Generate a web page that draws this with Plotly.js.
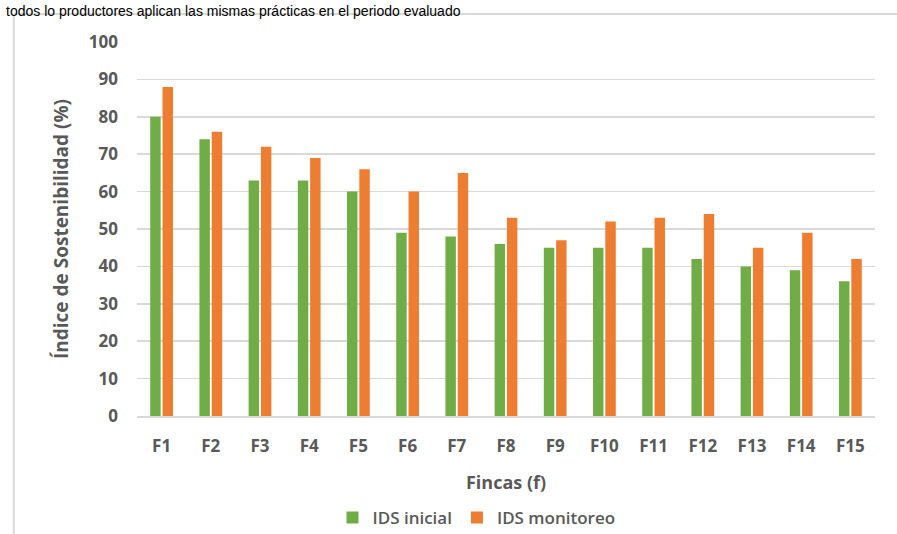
<!DOCTYPE html>
<html><head><meta charset="utf-8">
<script src="https://cdn.plot.ly/plotly-3.0.1.min.js"></script>
<style>html,body{margin:0;padding:0;background:#fff;overflow:hidden}</style>
</head><body>
<div id="chart" style="width:897px;height:534px"></div>
<script>
const categories = ["F1","F2","F3","F4","F5","F6","F7","F8","F9","F10","F11","F12","F13","F14","F15"];
const idsInicial = [80,74,63,63,60,49,48,46,45,45,45,42,40,39,36];
const idsMonitoreo = [88,76,72,69,66,60,65,53,47,52,53,54,45,49,42];
const yTicks = [0,10,20,30,40,50,60,70,80,90,100];

const fam = "Open Sans, Lato, sans-serif";
const gray = "#595959";
const traces = [
  {type:"bar", name:"IDS inicial", x:categories, y:idsInicial, marker:{color:"#70AD47"}},
  {type:"bar", name:"IDS monitoreo", x:categories, y:idsMonitoreo, marker:{color:"#ED7D31"}}
];
const layout = {
  width:897, height:534,
  margin:{l:137, r:22, t:42, b:118},
  paper_bgcolor:"#fff", plot_bgcolor:"#fff",
  barmode:"group", bargap:0.5, bargroupgap:0.15,
  showlegend:true,
  legend:{orientation:"h", x:0.46, xanchor:"center", yref:"container", y:0.03, yanchor:"middle",
          font:{family:fam, color:gray, size:17, weight:600}, traceorder:"normal"},
  xaxis:{type:"category", showgrid:false, showline:true, linecolor:"#D9D9D9", linewidth:2,
         ticks:"", automargin:false, ticklabelstandoff:14, tickfont:{family:fam, color:gray, size:17, weight:700},
         title:{text:"Fincas (f)", font:{family:fam, color:gray, size:18, weight:700}, standoff:20}},
  yaxis:{range:[0,100], tickvals:yTicks, showgrid:true, gridcolor:"#D9D9D9", gridwidth:1.5, zeroline:false,
         showline:false, ticks:"", ticklabelstandoff:18, automargin:false,
         tickfont:{family:fam, color:gray, size:17, weight:700},
         title:{text:"Índice de Sostenibilidad (%)", font:{family:fam, color:gray, size:19, weight:700}, standoff:15}},
  shapes:[
    {type:"line", xref:"paper", yref:"paper", x0:-0.167, x1:-0.167, y0:-0.5, y1:1.075, line:{color:"#D9D9D9", width:2}},
    {type:"line", xref:"paper", yref:"paper", x0:-0.167, x1:1.1, y0:1.075, y1:1.075, line:{color:"#D9D9D9", width:2}}
  ],
  annotations:[
    {text:"todos lo productores aplican las mismas prácticas en el periodo evaluado", xref:"paper", yref:"paper",
     x:-0.18, xanchor:"left", y:1.11, yanchor:"top", showarrow:false,
     font:{family:"Liberation Sans, Arial, sans-serif", size:14, color:"#000"}}
  ]
};
Plotly.newPlot("chart", traces, layout, {displayModeBar:false, staticPlot:true});
</script>
</body></html>
